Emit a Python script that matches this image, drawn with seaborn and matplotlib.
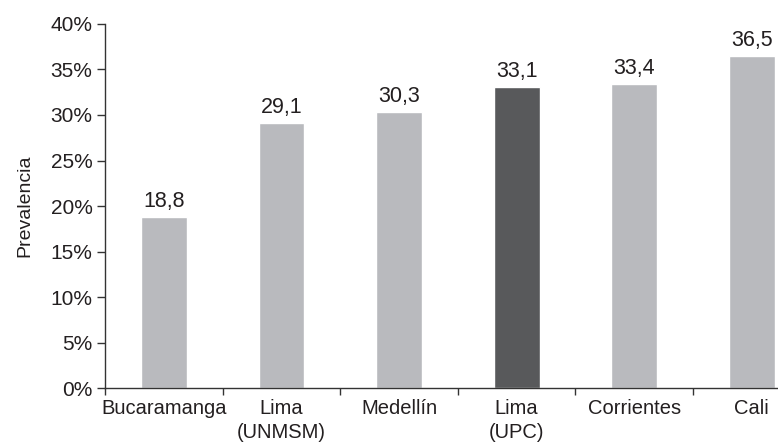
#!/usr/bin/env python3
import pandas as pd
import numpy as np
import matplotlib
matplotlib.use('Agg')
import matplotlib.pyplot as plt
import seaborn as sns
from matplotlib.ticker import FuncFormatter, FixedLocator

sns.set_theme(style='white')
plt.rcParams['font.family'] = ['Liberation Sans', 'DejaVu Sans']

# Data
cities = ['Bucaramanga', 'Lima\n(UNMSM)', 'Medellín', 'Lima\n(UPC)', 'Corrientes', 'Cali']
prevalence = [18.8, 29.1, 30.3, 33.1, 33.4, 36.5]
bar_colors = ['#b9babe', '#b9babe', '#b9babe', '#58595b', '#b9babe', '#b9babe']
y_ticks = [0, 5, 10, 15, 20, 25, 30, 35, 40]

df = pd.DataFrame({'Ciudad': cities, 'Prevalencia': prevalence})

text_color = '#231f20'
line_color = '#333333'

fig = plt.figure(figsize=(7.78, 4.44), dpi=100)
ax = fig.add_axes([0.135, 0.126, 0.907, 0.820])

sns.barplot(data=df, x='Ciudad', y='Prevalencia', hue='Ciudad',
            palette=bar_colors, width=0.39, legend=False, ax=ax,
            saturation=1)

# value labels with decimal comma
labels = [f'{v:.1f}'.replace('.', ',') for v in prevalence]
for cont, lab in zip(ax.containers, labels):
    ax.bar_label(cont, labels=[lab], padding=3.5, fontsize=15.5, color=text_color)

ax.set_xlim(-0.5, 5.5)
ax.set_ylim(0, 40)
ax.set_yticks(y_ticks)
ax.yaxis.set_major_formatter(FuncFormatter(lambda v, p: f'{v:.0f}%'))

# category boundaries as minor ticks
ax.xaxis.set_minor_locator(FixedLocator(np.arange(-0.5, 6, 1)))
ax.tick_params(axis='x', which='major', length=0, pad=8, labelsize=14.5, colors=text_color)
ax.tick_params(axis='x', which='minor', length=5, width=1, direction='out', bottom=True, color=line_color)
ax.tick_params(axis='y', which='major', length=6, width=1, direction='out', left=True,
               pad=3, labelsize=15, colors=text_color)
ax.tick_params(axis='y', color=line_color)
for lbl in ax.get_xticklabels():
    lbl.set_linespacing(1.35)

for side in ['top', 'right']:
    ax.spines[side].set_visible(False)
for side in ['left', 'bottom']:
    ax.spines[side].set_color(line_color)
    ax.spines[side].set_linewidth(1)

ax.set_xlabel('')
ax.set_ylabel('Prevalencia', fontsize=14, color=text_color, labelpad=12)
ax.grid(False)

fig.savefig('out.png', dpi=100)
